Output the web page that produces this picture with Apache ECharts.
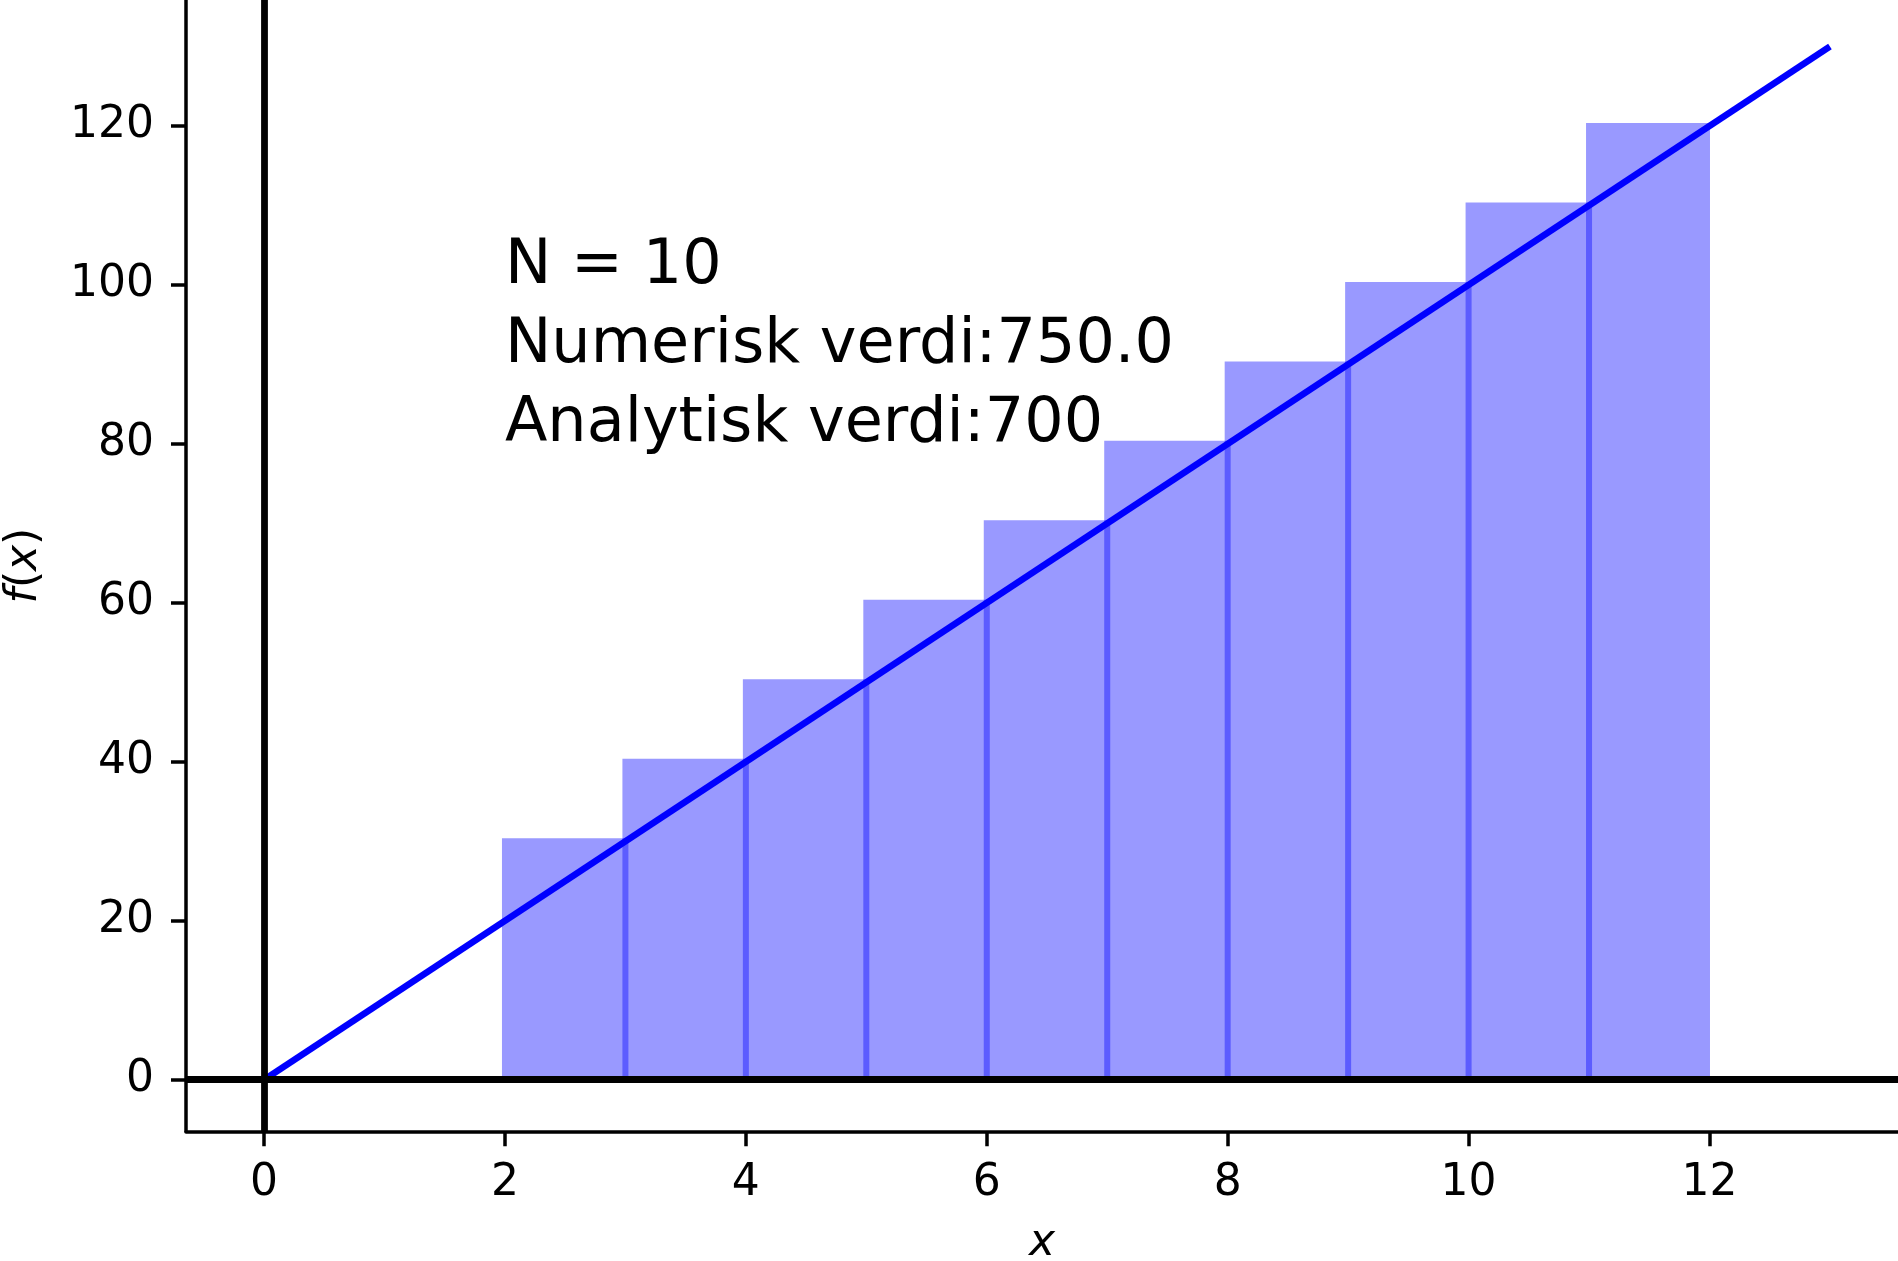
<!DOCTYPE html>
<html>
<head>
<meta charset="utf-8">
<script src="https://cdn.jsdelivr.net/npm/echarts@6/dist/echarts.min.js"></script>
<style>html,body{margin:0;padding:0;background:#fff;overflow:hidden;}#c{width:1898px;height:1261px;}</style>
</head>
<body>
<div id="c"></div>
<script>
// ---- data ----
const barLefts   = [2, 3, 4, 5, 6, 7, 8, 9, 10, 11];
const barRights  = [3, 4, 5, 6, 7, 8, 9, 10, 11, 12];
const barHeights = [30, 40, 50, 60, 70, 80, 90, 100, 110, 120];
const edgeX   = [3, 4, 5, 6, 7, 8, 9, 10, 11];
const edgeTop = [30, 40, 50, 60, 70, 80, 90, 100, 110];
const lineX = [0, 13];
const lineY = [0, 130];
const xTicks = [0, 2, 4, 6, 8, 10, 12];
const yTicks = [0, 20, 40, 60, 80, 100, 120];
const annotation = ['N = 10', 'Numerisk verdi:750.0', 'Analytisk verdi:700'];
const annotationPos = [2, 80];

const FONT = 'DejaVu Sans';
const chart = echarts.init(document.getElementById('c'), null, {renderer: 'canvas'});

const barData = barLefts.map((l, i) => [l, barRights[i], barHeights[i]]);
const edgeData = edgeX.map((x, i) => [x, edgeTop[i]]);
const lineData = lineX.map((x, i) => [x, lineY[i]]);

const option = {
  animation: false,
  backgroundColor: '#fff',
  grid: {left: 186, top: 0, right: 0, bottom: 129.7, containLabel: false, outerBoundsMode: 'none'},
  xAxis: {
    type: 'value', min: -0.648, max: 13.565,
    name: 'x', nameLocation: 'middle', nameGap: 90,
    nameTextStyle: {fontFamily: FONT, fontSize: 44, fontStyle: 'italic', color: '#000'},
    axisLine: {show: true, onZero: false, lineStyle: {color: '#000', width: 3.5}},
    axisTick: {show: true, length: 15, lineStyle: {color: '#000', width: 3.5}, customValues: xTicks},
    axisLabel: {fontFamily: FONT, fontSize: 44, color: '#000', margin: 30, customValues: xTicks},
    splitLine: {show: false}
  },
  yAxis: {
    type: 'value', min: -6.5, max: 135.85,
    name: '{i|f}({i|x})', nameLocation: 'middle', nameGap: 139, nameRotate: 90,
    nameTextStyle: {fontFamily: FONT, fontSize: 44, color: '#000',
      rich: {i: {fontFamily: FONT, fontSize: 44, fontStyle: 'italic', color: '#000'}}},
    axisLine: {show: true, onZero: false, lineStyle: {color: '#000', width: 3.5}},
    axisTick: {show: true, length: 15, lineStyle: {color: '#000', width: 3.5}, customValues: yTicks},
    axisLabel: {fontFamily: FONT, fontSize: 44, color: '#000', margin: 32, customValues: yTicks},
    splitLine: {show: false}
  },
  series: [
    {
      type: 'custom', z: 1, data: barData, clip: true,
      renderItem: function (params, api) {
        const p1 = api.coord([api.value(0), api.value(2)]);
        const p2 = api.coord([api.value(1), 0]);
        // small outward spread imitating the reference's edge stroke
        const x = p1[0] - 3, y = p1[1] - 3;
        return {type: 'rect', shape: {x: x, y: y, width: p2[0] + 0.5 - x, height: p2[1] - y},
          style: {fill: '#9999ff'}};
      }
    },
    {
      type: 'custom', z: 2, data: edgeData, clip: true,
      renderItem: function (params, api) {
        const a = api.coord([api.value(0), 0]);
        const b = api.coord([api.value(0), api.value(1)]);
        return {type: 'line', shape: {x1: a[0], y1: a[1], x2: b[0], y2: b[1] - 3},
          style: {stroke: '#5c5cff', lineWidth: 6}};
      }
    },
    {
      type: 'line', z: 3, data: lineData, showSymbol: false, symbol: 'none',
      lineStyle: {color: '#0000ff', width: 6.6}
    },
    {
      type: 'line', z: 4, data: [], silent: true,
      markLine: {
        silent: true, symbol: 'none', animation: false,
        label: {show: false},
        lineStyle: {color: '#000', width: 6.8, type: 'solid'},
        emphasis: {disabled: true},
        data: [{xAxis: 0}, {yAxis: 0}]
      }
    },
    {
      type: 'custom', z: 5, data: [annotationPos], clip: false,
      renderItem: function (params, api) {
        const p = api.coord([api.value(0), api.value(1)]);
        return {type: 'text', x: p[0], y: p[1] + 21,
          style: {text: annotation.join('\n'), fill: '#000', fontFamily: FONT, fontSize: 62,
            lineHeight: 79, align: 'left', verticalAlign: 'bottom'}};
      }
    }
  ]
};
chart.setOption(option);
</script>
</body>
</html>
